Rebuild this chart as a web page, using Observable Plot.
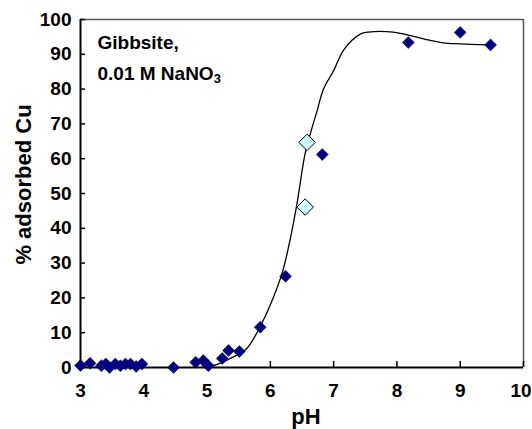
<!DOCTYPE html>
<html>
<head>
<meta charset="utf-8">
<script src="https://cdn.jsdelivr.net/npm/d3@7"></script>
<script src="https://cdn.jsdelivr.net/npm/@observablehq/plot@0.6"></script>
<style>
  html, body { margin: 0; padding: 0; background: white; }
</style>
</head>
<body>
<div id="chart"></div>
<script>
// Measured points (dark blue diamonds)
const pHBlue  = [3.00, 3.15, 3.33, 3.40, 3.46, 3.55, 3.63, 3.71, 3.79, 3.88, 3.97, 4.47, 4.82, 4.94, 5.02, 5.24, 5.34, 5.51, 5.84, 6.24, 6.82, 8.18, 9.00, 9.48];
const pctBlue = [0.6, 1.2, 0.5, 1.0, 0.0, 1.0, 0.5, 1.0, 1.0, 0.3, 1.0, 0.0, 1.5, 2.0, 0.5, 2.6, 4.9, 4.6, 11.6, 26.2, 61.2, 93.4, 96.3, 92.7];
// Highlighted points (light cyan diamonds)
const pHCyan  = [6.55, 6.58];
const pctCyan = [46.1, 64.7];
// Model curve
const pHCurve  = [5.00, 5.20, 5.40, 5.62, 5.84, 6.00, 6.11, 6.20, 6.32, 6.42, 6.55, 6.66, 6.74, 6.84, 7.00, 7.16, 7.42, 7.55, 7.94, 8.16, 8.45, 8.73, 9.00, 9.45];
const pctCurve = [0.0, 1.2, 2.9, 5.3, 11.8, 18.0, 23.1, 28.0, 37.4, 47.0, 61.5, 69.0, 73.8, 80.0, 85.3, 91.3, 95.8, 96.4, 96.4, 95.6, 94.3, 93.3, 93.0, 92.7];
// Tick labels
const xTicks = [3, 4, 5, 6, 7, 8, 9, 10];
const yTicks = [0, 10, 20, 30, 40, 50, 60, 70, 80, 90, 100];

const blue = pHBlue.map((x, i) => ({pH: x, pct: pctBlue[i]}));
const cyan = pHCyan.map((x, i) => ({pH: x, pct: pctCyan[i]}));
const curve = pHCurve.map((x, i) => ({pH: x, pct: pctCurve[i]}));

const W = 532, H = 429, ML = 80, MR = 9, MT = 19, MB = 62;
const FW = W - ML - MR, FH = H - MT - MB;
const xMax = xTicks[xTicks.length - 1];

const chart = Plot.plot({
  width: W, height: H,
  marginLeft: ML, marginRight: MR, marginTop: MT, marginBottom: MB,
  style: {fontFamily: "'Liberation Sans', Arial, sans-serif", fontWeight: "bold", fontSize: "19px", color: "black", background: "white", overflow: "visible"},
  x: {domain: [3, 10]},
  y: {domain: [0, 100]},
  marks: [
    Plot.ruleY([100], {stroke: "#555", strokeWidth: 1.5}),
    Plot.ruleX([10], {stroke: "#555", strokeWidth: 1.5}),
    Plot.tickX(xTicks, {x: d => d, insetTop: FH - 6, stroke: "black", strokeWidth: 1.5}),
    Plot.tickY(yTicks, {y: d => d, insetRight: FW - 5, stroke: "black", strokeWidth: 1.5}),
    Plot.axisX({ticks: xTicks.filter(d => d !== xMax), tickFormat: d3.format("d"), tickSize: 0, tickPadding: 16, label: null, fontSize: 19}),
    Plot.axisX({ticks: [xMax], tickFormat: d3.format("d"), tickSize: 0, tickPadding: 16, label: null, fontSize: 19, dx: -2.5}),
    Plot.axisY({ticks: yTicks, tickFormat: d3.format("d"), tickSize: 0, tickPadding: 9, label: null, fontSize: 19}),
    Plot.ruleX([3], {stroke: "black", strokeWidth: 2}),
    Plot.ruleY([0], {stroke: "black", strokeWidth: 2}),
    Plot.line(curve, {x: "pH", y: "pct", curve: "catmull-rom", stroke: "black", strokeWidth: 1.3}),
    Plot.dot(blue, {x: "pH", y: "pct", symbol: "diamond2", r: 5.4, fill: "#000080", stroke: "#000080", strokeWidth: 0.5}),
    Plot.dot(cyan, {x: "pH", y: "pct", symbol: "diamond2", r: 7.4, fill: "#ccffff", stroke: "black", strokeWidth: 1}),
    Plot.text(["pH"], {frameAnchor: "bottom", dx: 4, dy: 56, lineAnchor: "bottom", textAnchor: "middle", fontSize: 22}),
    Plot.text(["% adsorbed Cu"], {frameAnchor: "left", rotate: -90, dx: -57, dy: -9, textAnchor: "middle", fontSize: 22}),
    Plot.text(["Gibbsite,"], {frameAnchor: "top-left", dx: 17, dy: 29, lineAnchor: "bottom", textAnchor: "start", fontSize: 19}),
    Plot.text(["0.01 M NaNO"], {frameAnchor: "top-left", dx: 17, dy: 60, lineAnchor: "bottom", textAnchor: "start", fontSize: 19})
  ]
});

d3.select(chart).selectAll("text")
  .filter(function() { return this.textContent === "0.01 M NaNO"; })
  .append("tspan").attr("dy", "0.3em").attr("font-size", "13px").text("3");

document.getElementById("chart").appendChild(chart);
</script>
</body>
</html>
